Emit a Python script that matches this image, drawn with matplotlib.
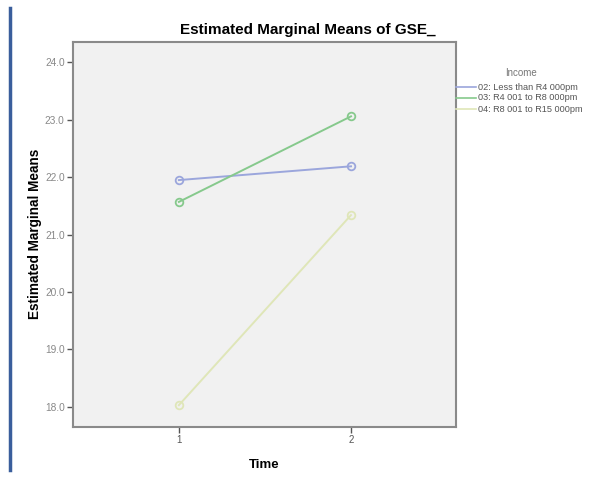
import matplotlib
matplotlib.use("Agg")
import matplotlib.pyplot as plt
from matplotlib.lines import Line2D

plt.rcParams['font.family'] = ['Liberation Sans', 'DejaVu Sans']

times = [1, 2]
series_names = ["02: Less than R4 000pm", "03: R4 001 to R8 000pm", "04: R8 001 to R15 000pm"]
less_r4000 = [21.95, 22.19]
r4001_r8000 = [21.57, 23.06]
r8001_r15000 = [18.03, 21.34]
yticks = [18.0, 19.0, 20.0, 21.0, 22.0, 23.0, 24.0]
colors = ["#9ba6dc", "#86c98c", "#dfe6b8"]

W, H = 593, 482
fig = plt.figure(figsize=(W / 100, H / 100), dpi=100)
fig.patch.set_facecolor("white")

left, right, top, bottom = 73, 456, 41.7, 427
ax = fig.add_axes([left / W, 1 - bottom / H, (right - left) / W, (bottom - top) / H])
ax.set_facecolor("#f1f1f1")

for vals, c in zip([less_r4000, r4001_r8000, r8001_r15000], colors):
    ax.plot(times, vals, color=c, lw=1.4, marker='o', ms=5.5, mfc='none', mec=c, mew=1.3)

ax.set_xlim(0.385, 2.61)
ax.set_ylim(17.65, 24.36)
ax.set_yticks(yticks)
ax.set_yticklabels([f"{v:.1f}" for v in yticks], fontsize=7.3, color="#888888")
ax.set_xticks(times)
ax.set_xticklabels([str(t) for t in times], fontsize=7, color="#555555")
ax.tick_params(axis='both', length=4, width=1, color="#555555", pad=2)
for s in ax.spines.values():
    s.set_color("#8a8a8a")
    s.set_linewidth(1.5)

ax.set_xlabel("Time", fontsize=9.5, fontweight='bold', labelpad=10)
ax.set_ylabel("Estimated Marginal Means", fontsize=9.8, fontweight='bold', labelpad=2)
fig.text(308 / W, 1 - 30 / H, "Estimated Marginal Means of GSE_", ha='center', va='center',
         fontsize=11, fontweight='bold')

# legend
fig.text(521 / W, 1 - 73 / H, "Income", ha='center', va='center', fontsize=7, color="#777777")
for i, (name, c) in enumerate(zip(series_names, colors)):
    y = 1 - (87 + i * 11) / H
    fig.add_artist(Line2D([456 / W, 476 / W], [y, y], color=c, lw=1.2))
    fig.text(478 / W, y, name, ha='left', va='center', fontsize=6.6, color="#555555")

# left blue border line
fig.add_artist(Line2D([10 / W, 10 / W], [1 - 8 / H, 1 - 470 / H], color="#3a5e9c", lw=2.5))

fig.savefig("out.png", dpi=100)
